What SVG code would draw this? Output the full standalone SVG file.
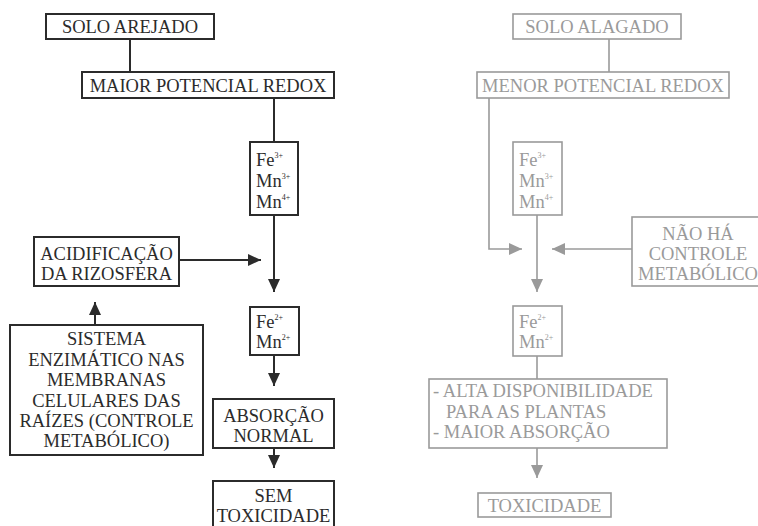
<svg xmlns="http://www.w3.org/2000/svg" width="758" height="526" viewBox="0 0 758 526">
<defs>
<style>
.l rect{fill:none;stroke:#2b2b2b;stroke-width:2}
.r rect{fill:none;stroke:#9a9a9a;stroke-width:1.6}
.cl{stroke:#2b2b2b;stroke-width:2;fill:none}
.cr{stroke:#9a9a9a;stroke-width:1.6;fill:none}
</style>
<marker id="ad" markerUnits="userSpaceOnUse" markerWidth="14" markerHeight="12" refX="13" refY="6" orient="auto">
<path d="M0,0 L13,6 L0,12 Z" fill="#2b2b2b"/>
</marker>
<marker id="ag" markerUnits="userSpaceOnUse" markerWidth="14" markerHeight="12" refX="13" refY="6" orient="auto">
<path d="M0,0 L13,6 L0,12 Z" fill="#9a9a9a"/>
</marker>
</defs>
<rect width="758" height="526" fill="#fff"/>

<g id="connectors">
<path class="cl" d="M130,39 V72"/>
<path class="cl" d="M274,98 V142"/>
<path class="cl" d="M274,215 V292" marker-end="url(#ad)"/>
<path class="cl" d="M179,260 H261" marker-end="url(#ad)"/>
<path class="cl" d="M95,325 V302" marker-end="url(#ad)"/>
<path class="cl" d="M274,355 V386" marker-end="url(#ad)"/>
<path class="cl" d="M274,448 V468" marker-end="url(#ad)"/>
<path class="cr" d="M609,39 V72"/>
<path class="cr" d="M489,98 V249 H522" marker-end="url(#ag)"/>
<path class="cr" d="M632,249 H552" marker-end="url(#ag)"/>
<path class="cr" d="M537,215 V292" marker-end="url(#ag)"/>
<path class="cr" d="M537,356 V379"/>
<path class="cr" d="M537,448 V478" marker-end="url(#ag)"/>
</g>

<g font-family="Liberation Serif, serif" font-size="18.5">
<g id="solo-arejado" class="l" fill="#2b2b2b"><rect x="46" y="14" width="168" height="25"/><text text-anchor="middle" x="130" y="33">SOLO AREJADO</text></g>
<g id="maior-redox" class="l" fill="#2b2b2b"><rect x="82" y="72" width="252" height="26"/><text text-anchor="middle" x="208" y="92">MAIOR POTENCIAL REDOX</text></g>
<g id="fe3-left" class="l" fill="#2b2b2b"><rect x="250" y="142" width="48" height="73"/>
<text x="256" y="166">Fe<tspan font-size="8" dy="-8">3+</tspan></text>
<text x="256" y="187">Mn<tspan font-size="8" dy="-8">3+</tspan></text>
<text x="256" y="208">Mn<tspan font-size="8" dy="-8">4+</tspan></text></g>
<g id="acidificacao" class="l" fill="#2b2b2b"><rect x="34" y="237" width="145" height="49"/>
<text text-anchor="middle" x="106.5" y="260">ACIDIFICAÇÃO</text><text text-anchor="middle" x="106.5" y="280">DA RIZOSFERA</text></g>
<g id="fe2-left" class="l" fill="#2b2b2b"><rect x="250" y="307" width="49" height="48"/>
<text x="256" y="328">Fe<tspan font-size="8" dy="-8">2+</tspan></text>
<text x="256" y="348">Mn<tspan font-size="8" dy="-8">2+</tspan></text></g>
<g id="sistema" class="l" fill="#2b2b2b"><rect x="10" y="325" width="193" height="130"/>
<text text-anchor="middle" x="106.5" y="345">SISTEMA</text>
<text text-anchor="middle" x="106.5" y="366">ENZIMÁTICO NAS</text>
<text text-anchor="middle" x="106.5" y="386">MEMBRANAS</text>
<text text-anchor="middle" x="106.5" y="407">CELULARES DAS</text>
<text text-anchor="middle" x="106.5" y="427">RAÍZES (CONTROLE</text>
<text text-anchor="middle" x="106.5" y="447">METABÓLICO)</text></g>
<g id="absorcao-normal" class="l" fill="#2b2b2b"><rect x="213" y="399" width="121" height="49"/>
<text text-anchor="middle" x="273.5" y="422">ABSORÇÃO</text><text text-anchor="middle" x="273.5" y="442">NORMAL</text></g>
<g id="sem-toxicidade" class="l" fill="#2b2b2b"><rect x="213" y="481" width="121" height="50"/>
<text text-anchor="middle" x="273.5" y="502">SEM</text><text text-anchor="middle" x="273.5" y="522">TOXICIDADE</text></g>

<g id="solo-alagado" class="r" fill="#9a9a9a"><rect x="513" y="14" width="168" height="25"/><text text-anchor="middle" x="597" y="33">SOLO ALAGADO</text></g>
<g id="menor-redox" class="r" fill="#9a9a9a"><rect x="477" y="72" width="252" height="26"/><text text-anchor="middle" x="603" y="92">MENOR POTENCIAL REDOX</text></g>
<g id="fe3-right" class="r" fill="#9a9a9a"><rect x="513" y="142" width="49" height="73"/>
<text x="519" y="166">Fe<tspan font-size="8" dy="-8">3+</tspan></text>
<text x="519" y="187">Mn<tspan font-size="8" dy="-8">3+</tspan></text>
<text x="519" y="208">Mn<tspan font-size="8" dy="-8">4+</tspan></text></g>
<g id="nao-ha-controle" class="r" fill="#9a9a9a"><rect x="632" y="217" width="135" height="69"/>
<text text-anchor="middle" x="698" y="240">NÃO HÁ</text><text text-anchor="middle" x="698" y="260">CONTROLE</text><text text-anchor="middle" x="698" y="280">METABÓLICO</text></g>
<g id="fe2-right" class="r" fill="#9a9a9a"><rect x="513" y="306" width="49" height="50"/>
<text x="519" y="328">Fe<tspan font-size="8" dy="-8">2+</tspan></text>
<text x="519" y="348">Mn<tspan font-size="8" dy="-8">2+</tspan></text></g>
<g id="alta-disponibilidade" class="r" fill="#9a9a9a"><rect x="429" y="379" width="238" height="69"/>
<text x="433" y="397">- ALTA DISPONIBILIDADE</text>
<text x="446" y="418">PARA AS PLANTAS</text>
<text x="433" y="438">- MAIOR ABSORÇÃO</text></g>
<g id="toxicidade" class="r" fill="#9a9a9a"><rect x="478" y="493" width="133" height="24"/><text text-anchor="middle" x="544.5" y="512">TOXICIDADE</text></g>
</g>
</svg>
